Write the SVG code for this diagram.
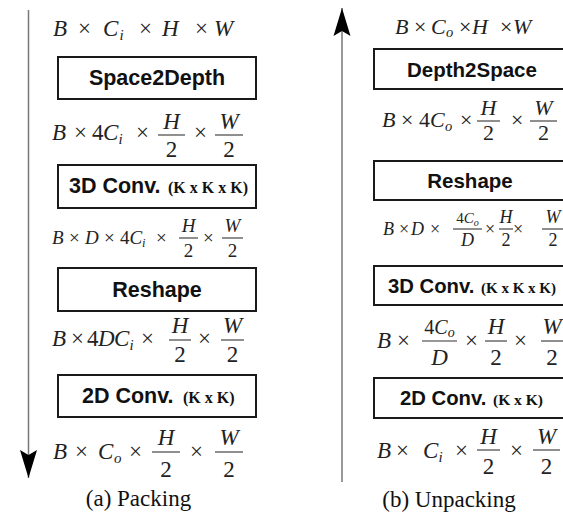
<svg xmlns="http://www.w3.org/2000/svg" width="563" height="517" viewBox="0 0 563 517">
<style>
text{font-family:"Liberation Serif","Times New Roman",serif;fill:#222}
.i{font-style:italic}
.box{fill:#fff;stroke:#1a1a1a;stroke-width:2}
.lbl{font-family:"Liberation Sans",Arial,sans-serif;font-weight:bold;fill:#111}
.k{font-family:"Liberation Serif","Times New Roman",serif;font-weight:bold;fill:#111}
.bar{stroke:#333;stroke-width:1.1}
.axis{stroke:#777;stroke-width:1.5;fill:none}
.cap{fill:#111;font-size:23px}
</style>
<defs>
<marker id="ah" markerUnits="userSpaceOnUse" markerWidth="32" markerHeight="24" viewBox="-30 -12 32 24" refX="0" refY="0" orient="auto">
<path d="M0,0 L-28,-8.5 L-23,0 L-28,8.5 Z" fill="#000"/>
</marker>
</defs>

<g id="connectors">
<path class="axis" d="M28.5,10 L28.5,478" marker-end="url(#ah)"/>
<path class="axis" d="M342,482 L342,8" marker-end="url(#ah)"/>
</g>

<!-- Left panel: Packing -->
<g id="a-f1" font-size="23">
<text y="36"><tspan class="i" x="53">B</tspan><tspan x="78">×</tspan><tspan class="i" x="103">C</tspan><tspan class="i" x="119.5" y="40" font-size="15">i</tspan><tspan x="139" y="36">×</tspan><tspan class="i" x="162">H</tspan><tspan x="195">×</tspan><tspan class="i" x="214">W</tspan></text>
</g>
<g id="a-space2depth">
<rect class="box" x="58" y="57" width="198" height="42"/>
<text class="lbl" x="157" y="85" font-size="21.5" text-anchor="middle">Space2Depth</text>
</g>
<g id="a-f2" font-size="23">
<text y="140"><tspan class="i" x="52">B</tspan><tspan x="74">×</tspan><tspan x="92">4</tspan><tspan class="i" x="103">C</tspan><tspan class="i" x="118.5" y="144" font-size="15">i</tspan><tspan x="136" y="140">×</tspan><tspan x="194">×</tspan></text>
<line class="bar" x1="158" y1="135" x2="185" y2="135"/>
<text class="i" x="171.5" y="129" text-anchor="middle">H</text>
<text x="171.5" y="157" text-anchor="middle">2</text>
<line class="bar" x1="215" y1="135" x2="243" y2="135"/>
<text class="i" x="229" y="129" text-anchor="middle">W</text>
<text x="229" y="157" text-anchor="middle">2</text>
</g>
<g id="a-conv3d">
<rect class="box" x="58" y="165" width="198" height="43"/>
<text y="193"><tspan class="lbl" x="69" font-size="21.5">3D Conv.</tspan><tspan class="k" x="168" font-size="16">(K x K x K)</tspan></text>
</g>
<g id="a-f3" font-size="19">
<text y="244"><tspan class="i" x="52">B</tspan><tspan x="69">×</tspan><tspan class="i" x="85">D</tspan><tspan x="104">×</tspan><tspan x="120">4</tspan><tspan class="i" x="129.5">C</tspan><tspan class="i" x="142" y="247" font-size="12.5">i</tspan><tspan x="156" y="244">×</tspan><tspan x="203">×</tspan></text>
<line class="bar" x1="179" y1="238" x2="198" y2="238"/>
<text class="i" x="188.5" y="232" text-anchor="middle">H</text>
<text x="188.5" y="257" text-anchor="middle">2</text>
<line class="bar" x1="222" y1="238" x2="243" y2="238"/>
<text class="i" x="232.5" y="232" text-anchor="middle">W</text>
<text x="232.5" y="257" text-anchor="middle">2</text>
</g>
<g id="a-reshape">
<rect class="box" x="58" y="268" width="198" height="43"/>
<text class="lbl" x="157" y="297" font-size="21.5" text-anchor="middle">Reshape</text>
</g>
<g id="a-f4" font-size="23">
<text y="346"><tspan class="i" x="52">B</tspan><tspan x="71">×</tspan><tspan x="87">4</tspan><tspan class="i" x="98">D</tspan><tspan class="i" x="114">C</tspan><tspan class="i" x="129.5" y="350" font-size="15">i</tspan><tspan x="141" y="346">×</tspan><tspan x="198">×</tspan></text>
<line class="bar" x1="169" y1="340" x2="191" y2="340"/>
<text class="i" x="180" y="333" text-anchor="middle">H</text>
<text x="180" y="362" text-anchor="middle">2</text>
<line class="bar" x1="221" y1="340" x2="244" y2="340"/>
<text class="i" x="232.5" y="333" text-anchor="middle">W</text>
<text x="232.5" y="362" text-anchor="middle">2</text>
</g>
<g id="a-conv2d">
<rect class="box" x="58" y="375" width="198" height="42"/>
<text y="403"><tspan class="lbl" x="82" font-size="21.5">2D Conv.</tspan><tspan class="k" x="183" font-size="16">(K x K)</tspan></text>
</g>
<g id="a-f5" font-size="23">
<text y="459"><tspan class="i" x="53">B</tspan><tspan x="75">×</tspan><tspan class="i" x="98">C</tspan><tspan class="i" x="114" y="463" font-size="15">o</tspan><tspan x="129" y="459">×</tspan><tspan x="190">×</tspan></text>
<line class="bar" x1="152" y1="452" x2="180" y2="452"/>
<text class="i" x="166" y="445" text-anchor="middle">H</text>
<text x="166" y="477" text-anchor="middle">2</text>
<line class="bar" x1="215" y1="452" x2="243" y2="452"/>
<text class="i" x="229" y="445" text-anchor="middle">W</text>
<text x="229" y="477" text-anchor="middle">2</text>
</g>
<text class="cap" x="138.5" y="506" text-anchor="middle">(a) Packing</text>

<!-- Right panel: Unpacking -->
<g id="b-f1" font-size="22">
<text y="34"><tspan class="i" x="395">B</tspan><tspan x="414">×</tspan><tspan class="i" x="431">C</tspan><tspan class="i" x="446" y="37" font-size="14.5">o</tspan><tspan x="459" y="34">×</tspan><tspan class="i" x="472">H</tspan><tspan x="500">×</tspan><tspan class="i" x="513">W</tspan></text>
</g>
<g id="b-depth2space">
<rect class="box" x="374" y="49" width="195" height="40"/>
<text class="lbl" x="472" y="77" font-size="20.5" text-anchor="middle">Depth2Space</text>
</g>
<g id="b-f2" font-size="22">
<text y="127"><tspan class="i" x="382">B</tspan><tspan x="401">×</tspan><tspan x="419">4</tspan><tspan class="i" x="430">C</tspan><tspan class="i" x="445" y="131" font-size="14.5">o</tspan><tspan x="460" y="127">×</tspan><tspan x="511">×</tspan></text>
<line class="bar" x1="477" y1="121" x2="500" y2="121"/>
<text class="i" x="488.5" y="115" text-anchor="middle">H</text>
<text x="488.5" y="140" text-anchor="middle">2</text>
<line class="bar" x1="530" y1="121" x2="557" y2="121"/>
<text class="i" x="543.5" y="115" text-anchor="middle">W</text>
<text x="543.5" y="140" text-anchor="middle">2</text>
</g>
<g id="b-reshape">
<rect class="box" x="374" y="161" width="195" height="39"/>
<text class="lbl" x="470" y="188" font-size="20.5" text-anchor="middle">Reshape</text>
</g>
<g id="b-f3" font-size="18">
<text y="235"><tspan class="i" x="383">B</tspan><tspan x="399">×</tspan><tspan class="i" x="411">D</tspan><tspan x="430">×</tspan><tspan x="485">×</tspan><tspan x="513">×</tspan></text>
<line class="bar" x1="453" y1="229" x2="482" y2="229"/>
<text x="467.5" y="223" font-size="15" text-anchor="middle"><tspan>4</tspan><tspan class="i">C</tspan><tspan class="i" dy="2.5" font-size="10">o</tspan></text>
<text class="i" x="467.5" y="246" text-anchor="middle">D</text>
<line class="bar" x1="499" y1="229" x2="513" y2="229"/>
<text class="i" x="506" y="223" text-anchor="middle">H</text>
<text x="506" y="246" text-anchor="middle">2</text>
<line class="bar" x1="542" y1="229" x2="563" y2="229"/>
<text class="i" x="553" y="223" text-anchor="middle">W</text>
<text x="553" y="246" text-anchor="middle">2</text>
</g>
<g id="b-conv3d">
<rect class="box" x="374" y="266" width="195" height="39"/>
<text y="293"><tspan class="lbl" x="388" font-size="20.3">3D Conv.</tspan><tspan class="k" x="481" font-size="15">(K x K x K)</tspan></text>
</g>
<g id="b-f4" font-size="23">
<text y="348"><tspan class="i" x="377">B</tspan><tspan x="397">×</tspan><tspan x="465">×</tspan><tspan x="514">×</tspan></text>
<line class="bar" x1="422" y1="341" x2="457" y2="341"/>
<text x="439.5" y="334" font-size="20" text-anchor="middle"><tspan>4</tspan><tspan class="i">C</tspan><tspan class="i" dy="3" font-size="14">o</tspan></text>
<text class="i" x="439.5" y="365" text-anchor="middle">D</text>
<line class="bar" x1="485" y1="341" x2="507" y2="341"/>
<text class="i" x="496" y="334" text-anchor="middle">H</text>
<text x="496" y="365" text-anchor="middle">2</text>
<line class="bar" x1="541" y1="341" x2="563" y2="341"/>
<text class="i" x="552" y="334" text-anchor="middle">W</text>
<text x="552" y="365" text-anchor="middle">2</text>
</g>
<g id="b-conv2d">
<rect class="box" x="374" y="378" width="195" height="40"/>
<text y="405"><tspan class="lbl" x="400" font-size="20.3">2D Conv.</tspan><tspan class="k" x="493" font-size="15.5">(K x K)</tspan></text>
</g>
<g id="b-f5" font-size="23">
<text y="458"><tspan class="i" x="377">B</tspan><tspan x="396">×</tspan><tspan class="i" x="423">C</tspan><tspan class="i" x="438.5" y="462" font-size="15">i</tspan><tspan x="455" y="458">×</tspan><tspan x="510">×</tspan></text>
<line class="bar" x1="477" y1="450" x2="500" y2="450"/>
<text class="i" x="488.5" y="444" text-anchor="middle">H</text>
<text x="488.5" y="474" text-anchor="middle">2</text>
<line class="bar" x1="533" y1="450" x2="560" y2="450"/>
<text class="i" x="546.5" y="444" text-anchor="middle">W</text>
<text x="546.5" y="474" text-anchor="middle">2</text>
</g>
<text class="cap" x="449" y="507" text-anchor="middle">(b) Unpacking</text>
</svg>
